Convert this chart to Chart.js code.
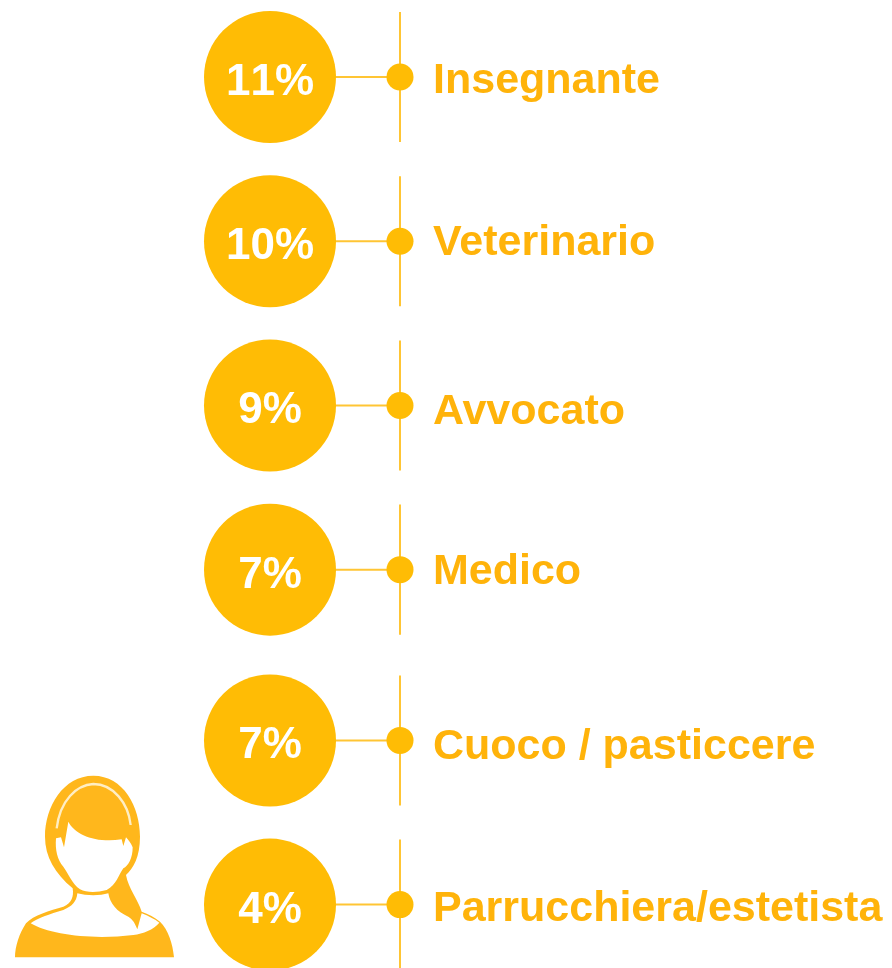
<!DOCTYPE html>
<html>
<head>
<meta charset="utf-8">
<title>Professioni</title>
<script src="https://cdn.jsdelivr.net/npm/chart.js@4"></script>
<style>
  html, body { margin: 0; background: #fff; overflow: hidden; }
  canvas { display: block; }
</style>
</head>
<body>
<canvas id="myChart" width="892" height="968"></canvas>
<script>
// DATA
const categories = ['Insegnante', 'Veterinario', 'Avvocato', 'Medico', 'Cuoco / pasticcere', 'Parrucchiera/estetista'];
const percents = [11, 10, 9, 7, 7, 4];

// LAYOUT
const AMBER = '#ffbc05';
const TEXT_AMBER = '#ffb30a';
const LINE_AMBER = '#ffc534';
const BUBBLE_X = 270;
const STEM_X = 400;
const STEM_HALF = 0.396;   // half height of a stem, in rows
const LOWER_GAP = 0.04;    // the last two rows sit a little lower

const rowY = i => i + (i >= 4 ? LOWER_GAP : 0);

// segments separated by null so the line breaks between rows
const stemPoints = categories.flatMap((_, i) => [
  { x: STEM_X, y: rowY(i) - STEM_HALF },
  { x: STEM_X, y: rowY(i) + STEM_HALF },
  { x: null, y: null }
]);
const linkPoints = categories.flatMap((_, i) => [
  { x: BUBBLE_X, y: rowY(i) },
  { x: STEM_X, y: rowY(i) },
  { x: null, y: null }
]);

// texts
const rowLabels = {
  id: 'rowLabels',
  afterDatasetsDraw(chart) {
    const { ctx, scales: { x, y } } = chart;
    // the labels are not quite level in the original
    const nudge = [-1, -3, 2, -3, 2, -1];
    ctx.save();
    ctx.textBaseline = 'alphabetic';
    categories.forEach((name, i) => {
      const py = y.getPixelForValue(rowY(i));
      ctx.fontKerning = 'none';
      ctx.font = 'bold 44px "Liberation Sans", Arial, sans-serif';
      ctx.textAlign = 'center';
      ctx.fillStyle = '#ffffff';
      ctx.fillText(percents[i] + '%', x.getPixelForValue(BUBBLE_X), py + 18);
      ctx.fontKerning = 'normal';
      ctx.font = 'bold 43px "Liberation Sans", Arial, sans-serif';
      ctx.textAlign = 'left';
      ctx.fillStyle = TEXT_AMBER;
      ctx.fillText(name, 433, py + 17 + nudge[i]);
    });
    ctx.restore();
  }
};

// the woman icon, just an illustration
const womanIcon = {
  id: 'womanIcon',
  afterDraw(chart) {
    const ctx = chart.ctx;
    ctx.save();
    ctx.translate(0, 760);
    ctx.scale(1 / 3, 1 / 3);
    ctx.fillStyle = '#ffb71c';
    ctx.fill(new Path2D('M280 47C190 47 135 140 135 230C135 290 165 340 218 385C222 410 215 430 190 440C150 452 100 465 78 490C58 520 45 560 45 592L522 592C518 550 505 510 480 485C465 472 445 462 425 455C415 420 385 385 378 345C400 325 420 290 420 230C420 140 370 47 280 47Z'));
    ctx.fillStyle = '#ffffff';
    // face
    ctx.fill(new Path2D('M205 185C225 225 290 250 365 238L370 258L378 232C385 240 392 248 398 262C398 295 385 318 370 325C355 345 350 375 320 390C290 398 260 398 240 388C215 370 205 340 190 320C172 300 165 270 168 235L183 232L192 262Z'));
    // neck and chest
    ctx.fill(new Path2D('M232 400C260 408 300 408 325 400C330 430 350 455 385 470C400 480 405 490 412 508L425 460C445 468 465 478 478 488C460 510 430 520 400 525C280 540 150 525 92 490C110 475 150 462 190 450C215 440 230 425 232 400Z'));
    // headband
    ctx.strokeStyle = '#ffeec4';
    ctx.lineWidth = 7;
    ctx.stroke(new Path2D('M170 205C180 120 230 75 280 72C340 72 385 130 392 195'));
    ctx.restore();
  }
};

new Chart(document.getElementById('myChart'), {
  type: 'scatter',
  data: {
    // first dataset is drawn last in Chart.js, so the dots come first
    datasets: [
      {
        data: categories.map((_, i) => ({ x: STEM_X, y: rowY(i) })),
        backgroundColor: AMBER,
        borderWidth: 0,
        pointRadius: 13.5
      },
      {
        data: categories.map((_, i) => ({ x: BUBBLE_X, y: rowY(i) })),
        backgroundColor: AMBER,
        borderWidth: 0,
        pointRadius: 66
      },
      {
        data: linkPoints,
        showLine: true,
        spanGaps: false,
        borderColor: LINE_AMBER,
        borderWidth: 2,
        pointRadius: 0
      },
      {
        data: stemPoints,
        showLine: true,
        spanGaps: false,
        borderColor: LINE_AMBER,
        borderWidth: 2,
        pointRadius: 0
      }
    ]
  },
  options: {
    responsive: false,
    animation: false,
    layout: { padding: 0, autoPadding: false },
    scales: {
      x: { type: 'linear', display: false, min: 0, max: 892 },
      y: { type: 'linear', display: false, reverse: true, min: -0.469, max: 5.426 }
    },
    plugins: {
      legend: { display: false },
      tooltip: { enabled: false }
    }
  },
  plugins: [rowLabels, womanIcon]
});
</script>
</body>
</html>
